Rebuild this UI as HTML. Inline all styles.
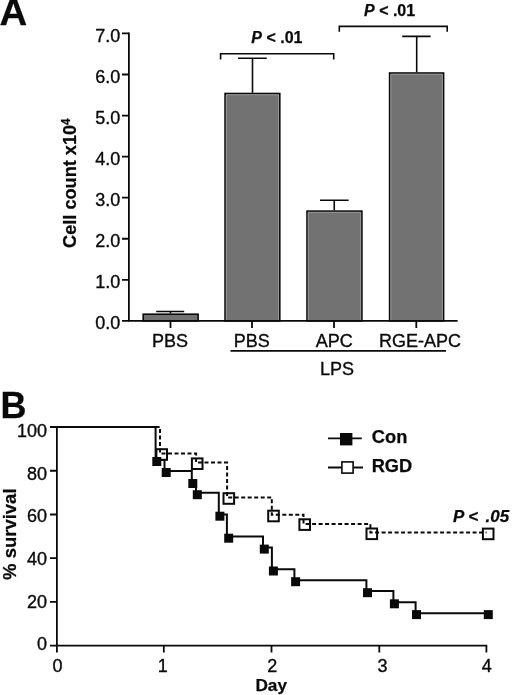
<!DOCTYPE html>
<html lang="en"><head><meta charset="utf-8"><title>Figure</title>
<style>html,body{margin:0;padding:0;background:#fff;}body{width:520px;height:695px;overflow:hidden;}svg{display:block;will-change:transform;}text{font-family:"Liberation Sans", Arial, Helvetica, sans-serif;fill:#0a0a0a;stroke:#0a0a0a;stroke-width:0.35px;stroke-linejoin:round;}.b,.bi{stroke-width:0.25px;}.b{font-weight:bold;}.bi{font-weight:bold;font-style:italic;}</style>
</head><body>
<svg width="520" height="695" viewBox="0 0 520 695">
<g id="panelA">
<text class="b" font-size="36" transform="translate(0.5 24.8) scale(1.067 1.04)" x="-0.9" y="0">A</text>
<rect x="143.20" y="314.20" width="54.90" height="6.70" fill="#727272" stroke="#0a0a0a" stroke-width="1.6"/>
<rect x="225.05" y="93.50" width="54.75" height="227.40" fill="#727272" stroke="#0a0a0a" stroke-width="1.6"/>
<path d="M226.30 319.90V94.75H278.55V319.90" fill="none" stroke="#979797" stroke-width="1"/>
<rect x="307.00" y="211.10" width="54.90" height="109.80" fill="#727272" stroke="#0a0a0a" stroke-width="1.6"/>
<path d="M308.25 319.90V212.35H360.65V319.90" fill="none" stroke="#979797" stroke-width="1"/>
<rect x="389.60" y="73.00" width="54.00" height="247.90" fill="#727272" stroke="#0a0a0a" stroke-width="1.6"/>
<path d="M390.85 319.90V74.25H442.35V319.90" fill="none" stroke="#979797" stroke-width="1"/>
<path d="M156.20 311.50H184.20M170.50 311.50V313.40" stroke="#0a0a0a" stroke-width="1.6" fill="none"/>
<path d="M238.00 58.30H266.75M252.50 58.30V92.70" stroke="#0a0a0a" stroke-width="1.6" fill="none"/>
<path d="M320.00 200.20H348.60M334.25 200.20V210.30" stroke="#0a0a0a" stroke-width="1.6" fill="none"/>
<path d="M402.20 36.40H430.60M416.70 36.40V72.20" stroke="#0a0a0a" stroke-width="1.6" fill="none"/>
<path d="M128.90 32.51V320.90H457.60" stroke="#0a0a0a" stroke-width="1.8" fill="none" stroke-linejoin="miter"/>
<path d="M122.00 320.90H128.90M122.00 279.83H128.90M122.00 238.76H128.90M122.00 197.69H128.90M122.00 156.62H128.90M122.00 115.55H128.90M122.00 74.48H128.90M122.00 33.41H128.90M170.50 320.90V328.00M252.00 320.90V328.00M334.00 320.90V328.00M416.30 320.90V328.00" stroke="#0a0a0a" stroke-width="1.8" fill="none"/>
<text x="120.4" y="329.30" font-size="18" text-anchor="end">0.0</text>
<text x="120.4" y="288.23" font-size="18" text-anchor="end">1.0</text>
<text x="120.4" y="247.16" font-size="18" text-anchor="end">2.0</text>
<text x="120.4" y="206.09" font-size="18" text-anchor="end">3.0</text>
<text x="120.4" y="165.02" font-size="18" text-anchor="end">4.0</text>
<text x="120.4" y="123.95" font-size="18" text-anchor="end">5.0</text>
<text x="120.4" y="82.88" font-size="18" text-anchor="end">6.0</text>
<text x="120.4" y="41.81" font-size="18" text-anchor="end">7.0</text>
<text class="b" font-size="18" text-anchor="middle" transform="translate(76.2 183.2) rotate(-90) scale(1.008 1.06)">Cell count x10<tspan font-size="11.5" dy="-5.6">4</tspan></text>
<text x="170.0" y="346.5" font-size="18" text-anchor="middle">PBS</text>
<text x="251.8" y="346.5" font-size="18" text-anchor="middle">PBS</text>
<text x="334.3" y="346.5" font-size="18" text-anchor="middle">APC</text>
<text x="420.1" y="346.5" font-size="18" text-anchor="middle">RGE-APC</text>
<path d="M230.5 350.8H446" stroke="#0a0a0a" stroke-width="1.8" fill="none"/>
<text x="337.0" y="374.7" font-size="18" text-anchor="middle">LPS</text>
<path d="M220.6 59.6V53.8H333.7V59.4" stroke="#0a0a0a" stroke-width="1.6" fill="none"/>
<path d="M339.3 31.8V26.4H447.2V31.8" stroke="#0a0a0a" stroke-width="1.6" fill="none"/>
<text x="276.9" y="42.8" font-size="16" text-anchor="middle" class="b"><tspan class="bi">P</tspan> &lt; .01</text>
<text x="389.6" y="16.2" font-size="16" text-anchor="middle" class="b"><tspan class="bi">P</tspan> &lt; .01</text>
</g>
<g id="panelB">
<text class="b" font-size="36" transform="translate(2.9 418.3) scale(1 1.04)" x="-2.4" y="0">B</text>
<path d="M56.90 426.10V652.60M50.00 645.70H487.20" stroke="#0a0a0a" stroke-width="1.8" fill="none"/>
<path d="M50.00 601.96H56.90M50.00 558.22H56.90M50.00 514.48H56.90M50.00 470.74H56.90M50.00 427.00H56.90M163.80 645.70V652.40M271.50 645.70V652.40M379.30 645.70V652.40M486.40 645.70V652.40" stroke="#0a0a0a" stroke-width="1.8" fill="none"/>
<text x="47.0" y="650.25" font-size="18" text-anchor="end">0</text>
<text x="47.0" y="607.60" font-size="18" text-anchor="end">20</text>
<text x="47.0" y="564.95" font-size="18" text-anchor="end">40</text>
<text x="47.0" y="522.30" font-size="18" text-anchor="end">60</text>
<text x="47.0" y="479.65" font-size="18" text-anchor="end">80</text>
<text x="47.0" y="437.00" font-size="18" text-anchor="end">100</text>
<text x="57.40" y="672.3" font-size="18" text-anchor="middle">0</text>
<text x="162.80" y="672.3" font-size="18" text-anchor="middle">1</text>
<text x="272.20" y="672.3" font-size="18" text-anchor="middle">2</text>
<text x="382.40" y="672.3" font-size="18" text-anchor="middle">3</text>
<text x="486.70" y="672.3" font-size="18" text-anchor="middle">4</text>
<text class="b" x="271.2" y="690.5" font-size="17.2" text-anchor="middle">Day</text>
<text class="b" font-size="18.5" text-anchor="middle" transform="translate(16.2 534.2) rotate(-90) scale(1 1.03)">% survival</text>
<rect x="156.40" y="449.20" width="10.6" height="10.6" fill="#fff" stroke="#0a0a0a" stroke-width="2"/>
<rect x="191.90" y="458.40" width="10.6" height="10.6" fill="#fff" stroke="#0a0a0a" stroke-width="2"/>
<rect x="223.50" y="493.20" width="10.6" height="10.6" fill="#fff" stroke="#0a0a0a" stroke-width="2"/>
<rect x="268.20" y="510.70" width="10.6" height="10.6" fill="#fff" stroke="#0a0a0a" stroke-width="2"/>
<rect x="299.40" y="519.30" width="10.6" height="10.6" fill="#fff" stroke="#0a0a0a" stroke-width="2"/>
<rect x="366.50" y="528.50" width="10.6" height="10.6" fill="#fff" stroke="#0a0a0a" stroke-width="2"/>
<rect x="482.90" y="528.60" width="10.6" height="10.6" fill="#fff" stroke="#0a0a0a" stroke-width="2"/>
<path d="M155.6 427H160V453.6H196.1V462.6H227.1V497.4H271.8V514.8H303.5V524H370.4V532.5H486.5" stroke="#0a0a0a" stroke-width="2" fill="none" stroke-dasharray="4 2.5"/>
<path d="M56.9 427H155.6V460H164.5V471H191.8V482H196V492.7H218.8V514.5H226.9V536.4H263V547.4H271.9V569.3H294.4V580.3H366.4V591.1H393.4V602.3H415.6V613.3H488" stroke="#0a0a0a" stroke-width="2" fill="none"/>
<rect x="152.30" y="457.00" width="9" height="9" fill="#0a0a0a"/>
<rect x="161.70" y="468.00" width="9" height="9" fill="#0a0a0a"/>
<rect x="188.30" y="479.00" width="9" height="9" fill="#0a0a0a"/>
<rect x="192.80" y="490.20" width="9" height="9" fill="#0a0a0a"/>
<rect x="215.40" y="511.70" width="9" height="9" fill="#0a0a0a"/>
<rect x="224.20" y="533.70" width="9" height="9" fill="#0a0a0a"/>
<rect x="259.80" y="544.60" width="9" height="9" fill="#0a0a0a"/>
<rect x="268.90" y="566.50" width="9" height="9" fill="#0a0a0a"/>
<rect x="291.10" y="577.20" width="9" height="9" fill="#0a0a0a"/>
<rect x="363.00" y="588.20" width="9" height="9" fill="#0a0a0a"/>
<rect x="389.90" y="599.30" width="9" height="9" fill="#0a0a0a"/>
<rect x="412.00" y="610.10" width="9" height="9" fill="#0a0a0a"/>
<rect x="483.80" y="610.10" width="9" height="9" fill="#0a0a0a"/>
<path d="M328 438.3H361.8M328 467.5H363" stroke="#0a0a0a" stroke-width="1.8" fill="none"/>
<rect x="340" y="433" width="12.4" height="12.4" fill="#0a0a0a"/>
<rect x="341.9" y="461.9" width="11.2" height="11.2" fill="#fff" stroke="#0a0a0a" stroke-width="1.6"/>
<text class="b" x="371.8" y="442.7" font-size="18.3">Con</text>
<text class="b" x="371.7" y="471.6" font-size="18.2">RGD</text>
<text class="bi" y="522.4" font-size="17"><tspan x="452.9">P &lt;</tspan><tspan x="485.6">.05</tspan></text>
</g>
</svg>
</body></html>
